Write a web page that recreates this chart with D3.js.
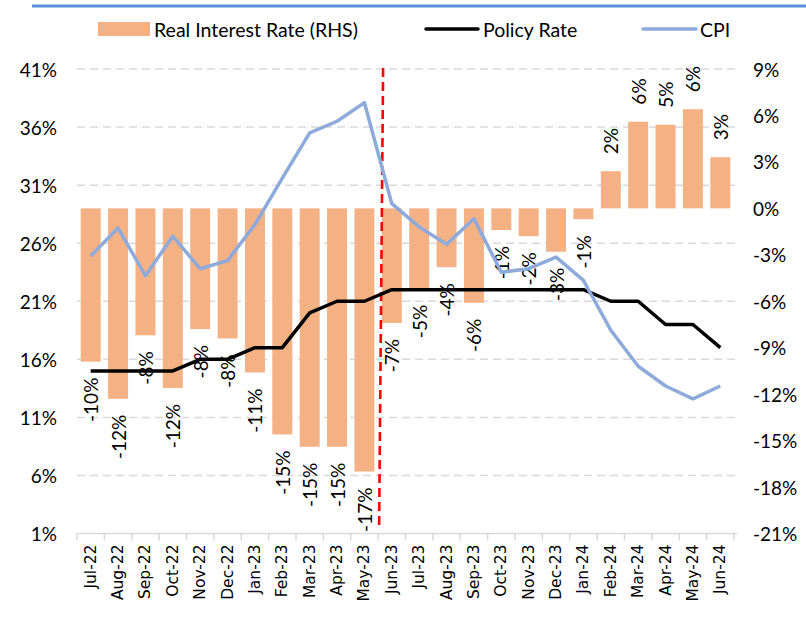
<!doctype html>
<html lang="en">
<head>
  <meta charset="utf-8">
  <title>Real interest rate</title>
  <style>
    body { margin: 0; background: #fff; }
    svg text { font-family: Lato, "Open Sans", sans-serif; fill: #000; }
  </style>
</head>
<body>
<div id="chart"></div>

<script src="https://cdnjs.cloudflare.com/ajax/libs/d3/7.8.5/d3.min.js"></script>
<script>

// data
const months = ["Jul-22","Aug-22","Sep-22","Oct-22","Nov-22","Dec-22","Jan-23","Feb-23","Mar-23","Apr-23","May-23","Jun-23",
                "Jul-23","Aug-23","Sep-23","Oct-23","Nov-23","Dec-23","Jan-24","Feb-24","Mar-24","Apr-24","May-24","Jun-24"]
const realRate = [-9.9,-12.3,-8.2,-11.6,-7.8,-8.4,-10.6,-14.6,-15.4,-15.4,-17.0,-7.4,
                  -5.2,-3.8,-6.1,-1.4,-1.8,-2.8,-0.7,2.4,5.6,5.4,6.4,3.3]
const policyRate = [15,15,15,15,16,16,17,17,20,21,21,22,22,22,22,22,22,22,22,21,21,19,19,17]
const cpi = [24.9,27.3,23.2,26.6,23.8,24.5,27.6,31.6,35.5,36.5,38.1,29.4,
             27.4,25.9,28.1,23.5,23.8,24.8,22.8,18.5,15.4,13.7,12.6,13.7]
const leftTicks = d3.range(1, 42, 5)       // 1% .. 41%
const rightTicks = d3.range(-21, 10, 3)    // -21% .. 9%
const splitMonth = "Jun-23"

const W = 806, H = 629
const plotTop = 69, plotBottom = 533.5, plotLeft = 77, plotRight = 734

const svg = d3.select("#chart").append("svg")
  .attr("width", W).attr("height", H)

// scales
const x = d3.scaleBand().domain(months).range([plotLeft, plotRight])
  .paddingInner(0.27).paddingOuter(0.135)
const yL = d3.scaleLinear().domain([1, 41]).range([plotBottom, plotTop])
const yR = d3.scaleLinear().domain([-21, 9]).range([plotBottom, plotTop])

// top rule
svg.append("line")
  .attr("x1", 32).attr("x2", W).attr("y1", 6).attr("y2", 6)
  .attr("stroke", "#5b8fd9").attr("stroke-width", 2.8)

// gridlines
svg.append("g").selectAll("line")
  .data(leftTicks.filter(d => d > 1))
  .join("line")
    .attr("x1", plotLeft).attr("x2", plotRight + 3)
    .attr("y1", d => yL(d)).attr("y2", d => yL(d))
    .attr("stroke", "#d9d9d9").attr("stroke-width", 1.5)
    .attr("stroke-dasharray", "8,5")

// x axis line + ticks
const step = x.step()
const edge = d => x(d) - x.paddingInner() * step / 2
svg.append("line")
  .attr("x1", plotLeft).attr("x2", plotRight + 3)
  .attr("y1", plotBottom).attr("y2", plotBottom)
  .attr("stroke", "#d9d9d9").attr("stroke-width", 1.5)
svg.append("g").selectAll("line")
  .data(months.concat(["end"]))
  .join("line")
    .attr("x1", (d, i) => i < months.length ? edge(d) : plotRight)
    .attr("x2", (d, i) => i < months.length ? edge(d) : plotRight)
    .attr("y1", plotBottom).attr("y2", plotBottom + 7)
    .attr("stroke", "#d9d9d9").attr("stroke-width", 1.5)

// bars (right axis)
svg.append("g").selectAll("rect")
  .data(realRate)
  .join("rect")
    .attr("x", (d, i) => x(months[i]))
    .attr("width", x.bandwidth())
    .attr("y", d => yR(Math.max(0, d)))
    .attr("height", d => Math.abs(yR(d) - yR(0)))
    .attr("fill", "#f4b183")

// bar labels
svg.append("g").selectAll("text")
  .data(realRate)
  .join("text")
    .attr("transform", (d, i) => {
      const cx = x(months[i]) + x.bandwidth() / 2
      const cy = d < 0 ? yR(d) + 16 : yR(d) - 17
      return `translate(${cx},${cy}) rotate(-90)`
    })
    .attr("text-anchor", d => d < 0 ? "end" : "start")
    .attr("dominant-baseline", "central")
    .style("font-size", "19px")
    .text(d => Math.round(d) + "%")

// split line
const sx = edge(splitMonth)
svg.append("line")
  .attr("x1", sx + 1).attr("y1", 525)
  .attr("x2", sx + 5).attr("y2", 67)
  .attr("stroke", "#ff0000").attr("stroke-width", 2.6)
  .attr("stroke-dasharray", "9,5")

// lines (left axis)
const line = d3.line()
  .x((d, i) => x(months[i]) + x.bandwidth() / 2)
  .y(d => yL(d))

svg.append("path").datum(policyRate)
  .attr("d", line).attr("fill", "none")
  .attr("stroke", "#000").attr("stroke-width", 3.5)
  .attr("stroke-linejoin", "round")

svg.append("path").datum(cpi)
  .attr("d", line).attr("fill", "none")
  .attr("stroke", "#8eaadb").attr("stroke-width", 3.5)
  .attr("stroke-linejoin", "round")

// left axis labels
svg.append("g").selectAll("text")
  .data(leftTicks)
  .join("text")
    .attr("x", 57).attr("y", d => yL(d))
    .attr("text-anchor", "end").attr("dominant-baseline", "central")
    .style("font-size", "19px")
    .text(d => d + "%")

// right axis labels
svg.append("g").selectAll("text")
  .data(rightTicks)
  .join("text")
    .attr("x", 753).attr("y", d => yR(d))
    .attr("text-anchor", "start").attr("dominant-baseline", "central")
    .style("font-size", "19px")
    .text(d => d + "%")

// month labels
svg.append("g").selectAll("text")
  .data(months)
  .join("text")
    .attr("transform", d => `translate(${x(d) + x.bandwidth() / 2},${plotBottom + 11}) rotate(-90)`)
    .attr("text-anchor", "end").attr("dominant-baseline", "central")
    .style("font-family", "'DejaVu Sans', sans-serif")
    .style("font-size", "15.5px")
    .text(d => d)

// legend
const leg = svg.append("g").attr("transform", "translate(0,29)")
leg.append("rect").attr("x", 98).attr("y", -7).attr("width", 52).attr("height", 14).attr("fill", "#f4b183")
leg.append("text").attr("x", 154).attr("dominant-baseline", "central").style("font-size", "19.5px")
  .text("Real Interest Rate (RHS)")
leg.append("line").attr("x1", 426).attr("x2", 478).attr("stroke", "#000").attr("stroke-width", 3.5)
  .attr("stroke-linecap", "round")
leg.append("text").attr("x", 483).attr("dominant-baseline", "central").style("font-size", "19.5px")
  .text("Policy Rate")
leg.append("line").attr("x1", 643).attr("x2", 696).attr("stroke", "#8eaadb").attr("stroke-width", 3.5)
  .attr("stroke-linecap", "round")
leg.append("text").attr("x", 700).attr("dominant-baseline", "central").style("font-size", "19.5px")
  .text("CPI")

</script>
</body>
</html>
